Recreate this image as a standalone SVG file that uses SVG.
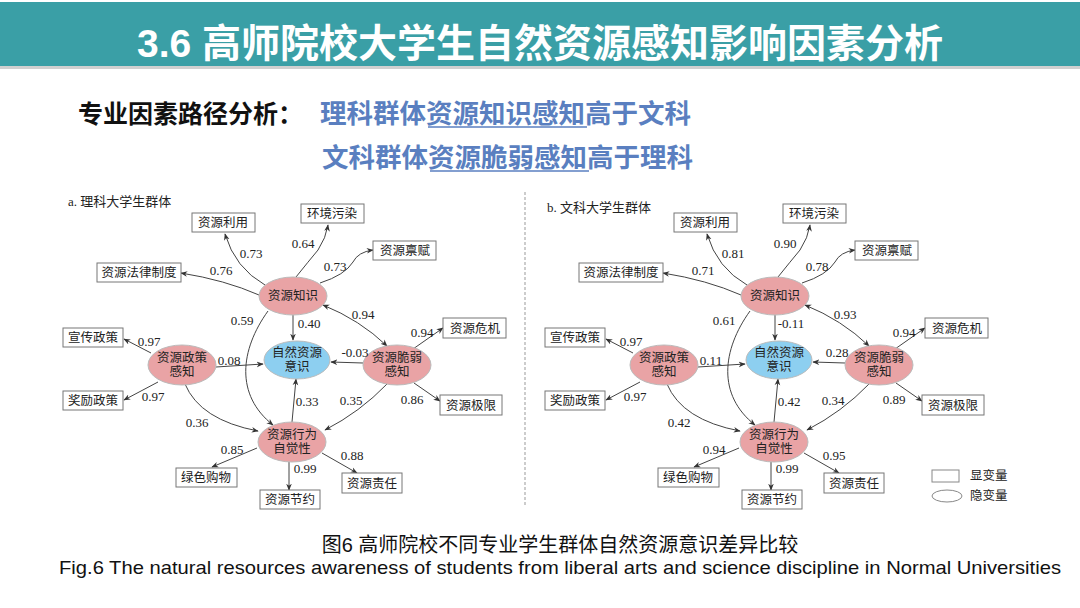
<svg xmlns="http://www.w3.org/2000/svg" width="1080" height="608" viewBox="0 0 1080 608">
<style>
.bx{fill:#fff;stroke:#777;stroke-width:1}
.lat{fill:#e9a3a5;stroke:#bbb;stroke-width:1}
.blu{fill:#8dcff0;stroke:#bbb;stroke-width:1}
.t{font-family:"Liberation Serif","Noto Sans CJK SC",serif;font-size:13px;fill:#222;text-anchor:middle}
.n{font-family:"Liberation Serif","Noto Sans CJK SC",serif;font-size:12.5px;fill:#222;text-anchor:middle}
.e{fill:none;stroke:#444;stroke-width:1;marker-end:url(#ar)}
</style>
<defs>
<marker id="ar" viewBox="0 0 10 10" refX="9" refY="5" markerWidth="7" markerHeight="7" orient="auto-start-reverse"><path d="M0,1 L10,5 L0,9 L3,5z" fill="#333"/></marker>
</defs>
<rect width="1080" height="608" fill="#fff"/>
<rect x="0" y="3" width="1080" height="66" fill="#d0d0d0"/>
<rect x="0" y="2" width="1080" height="64" fill="#3a9fa6"/>
<text x="540" y="57" font-family="Liberation Sans,'Noto Sans CJK SC',sans-serif" font-size="39" font-weight="bold" fill="#fff" text-anchor="middle">3.6 高师院校大学生自然资源感知影响因素分析</text>
<g font-family="Liberation Sans,'Noto Sans CJK SC',sans-serif" font-size="26.5" font-weight="bold">
<text x="78" y="123" fill="#111" font-size="25">专业因素路径分析：</text>
<text x="320" y="123" fill="#5a7fc0">理科群体资源知识感知高于文科</text>
<text x="322" y="167" fill="#5a7fc0">文科群体资源脆弱感知高于理科</text>
</g>
<line x1="428" y1="127" x2="587" y2="127" stroke="#5a7fc0" stroke-width="1.5"/>
<line x1="430" y1="171" x2="589" y2="171" stroke="#5a7fc0" stroke-width="1.5"/>
<line x1="525" y1="192" x2="525" y2="505" stroke="#999" stroke-dasharray="3,2"/>

<g id="diagramA">
<text x="68" y="206" class="t" style="text-anchor:start">a.  理科大学生群体</text>
<g id="edgesA">
<path class="e" d="M265,285 Q235,268 225,234"/>
<path class="e" d="M296,277 Q308,262 318,250 Q326,238 328,225"/>
<path class="e" d="M320,283 Q345,275 353,262 Q358,252 373,250"/>
<path class="e" d="M259,295 Q225,280 181,273"/>
<path class="e" d="M293,315 L293,340"/>
<path class="e" d="M323,305 Q360,320 387,346" marker-start="url(#ar)"/>
<path class="e" d="M268,311 C240,350 235,395 273,425"/>
<path class="e" d="M151,353 L124,339"/>
<path class="e" d="M158,382 L124,400"/>
<path class="e" d="M216,367 L263,364"/>
<path class="e" d="M185,384 Q200,420 258,431"/>
<path class="e" d="M413,349 L443,328"/>
<path class="e" d="M414,383 L440,401"/>
<path class="e" d="M363,363 L331,362"/>
<path class="e" d="M387,384 Q360,412 325,430"/>
<path class="e" d="M292,422 L296,379"/>
<path class="e" d="M257,448 L212,467"/>
<path class="e" d="M289,462 L289,490"/>
<path class="e" d="M322,453 L357,473"/>
</g>
<g id="A_zs"><ellipse class="lat" cx="293" cy="296" rx="34" ry="19"/><text class="n" x="293" y="300">资源知识</text></g>
<g id="A_ys"><ellipse class="blu" cx="297" cy="360" rx="33" ry="19"/><text class="n" x="297" y="357">自然资源</text><text class="n" x="297" y="371">意识</text></g>
<g id="A_zc"><ellipse class="lat" cx="182" cy="365" rx="34" ry="20"/><text class="n" x="182" y="362">资源政策</text><text class="n" x="182" y="376">感知</text></g>
<g id="A_cr"><ellipse class="lat" cx="397" cy="365" rx="34" ry="20"/><text class="n" x="397" y="362">资源脆弱</text><text class="n" x="397" y="376">感知</text></g>
<g id="A_xw"><ellipse class="lat" cx="292" cy="442" rx="34" ry="20"/><text class="n" x="292" y="439">资源行为</text><text class="n" x="292" y="453">自觉性</text></g>
<g id="A_b1"><rect class="bx" x="192" y="213" width="63" height="19"/><text class="n" x="223" y="227">资源利用</text></g>
<g id="A_b2"><rect class="bx" x="301" y="204" width="63" height="19"/><text class="n" x="332" y="218">环境污染</text></g>
<g id="A_b3"><rect class="bx" x="373" y="241" width="63" height="19"/><text class="n" x="405" y="255">资源禀赋</text></g>
<g id="A_b4"><rect class="bx" x="97" y="263" width="84" height="19"/><text class="n" x="139" y="277">资源法律制度</text></g>
<g id="A_b5"><rect class="bx" x="63" y="328" width="60" height="19"/><text class="n" x="93" y="342">宣传政策</text></g>
<g id="A_b6"><rect class="bx" x="443" y="318" width="63" height="20"/><text class="n" x="475" y="333">资源危机</text></g>
<g id="A_b7"><rect class="bx" x="63" y="391" width="60" height="19"/><text class="n" x="93" y="405">奖励政策</text></g>
<g id="A_b8"><rect class="bx" x="440" y="395" width="62" height="20"/><text class="n" x="471" y="410">资源极限</text></g>
<g id="A_b9"><rect class="bx" x="176" y="468" width="61" height="19"/><text class="n" x="206" y="482">绿色购物</text></g>
<g id="A_b10"><rect class="bx" x="260" y="490" width="60" height="19"/><text class="n" x="290" y="504">资源节约</text></g>
<g id="A_b11"><rect class="bx" x="342" y="473" width="60" height="20"/><text class="n" x="372" y="488">资源责任</text></g>
<g class="t">
<text x="251" y="258">0.73</text><text x="303" y="248">0.64</text><text x="335" y="271">0.73</text><text x="221" y="275">0.76</text>
<text x="242" y="325">0.59</text><text x="309" y="328">0.40</text><text x="363" y="319">0.94</text><text x="422" y="337">0.94</text>
<text x="149" y="346">0.97</text><text x="229" y="365">0.08</text><text x="355" y="357">-0.03</text><text x="153" y="401">0.97</text>
<text x="307" y="406">0.33</text><text x="351" y="405">0.35</text><text x="412" y="404">0.86</text><text x="197" y="427">0.36</text>
<text x="232" y="454">0.85</text><text x="305" y="473">0.99</text><text x="352" y="460">0.88</text>
</g>
</g>

<g id="diagramB" transform="translate(482,0)">
<text x="65" y="212" class="t" style="text-anchor:start">b.  文科大学生群体</text>
<g id="edgesB">
<path class="e" d="M265,285 Q235,268 225,234"/>
<path class="e" d="M296,277 Q308,262 318,250 Q326,238 328,225"/>
<path class="e" d="M320,283 Q345,275 353,262 Q358,252 373,250"/>
<path class="e" d="M259,295 Q225,280 181,273"/>
<path class="e" d="M293,315 L293,340"/>
<path class="e" d="M323,305 Q360,320 387,346" marker-start="url(#ar)"/>
<path class="e" d="M268,311 C240,350 235,395 273,425"/>
<path class="e" d="M151,353 L124,339"/>
<path class="e" d="M158,382 L124,400"/>
<path class="e" d="M216,367 L263,364"/>
<path class="e" d="M185,384 Q200,420 258,431"/>
<path class="e" d="M413,349 L443,328"/>
<path class="e" d="M414,383 L440,401"/>
<path class="e" d="M363,363 L331,362"/>
<path class="e" d="M387,384 Q360,412 325,430"/>
<path class="e" d="M292,422 L296,379"/>
<path class="e" d="M257,448 L212,467"/>
<path class="e" d="M289,462 L289,490"/>
<path class="e" d="M322,453 L357,473"/>
</g>
<g id="B_zs"><ellipse class="lat" cx="293" cy="296" rx="34" ry="19"/><text class="n" x="293" y="300">资源知识</text></g>
<g id="B_ys"><ellipse class="blu" cx="297" cy="360" rx="33" ry="19"/><text class="n" x="297" y="357">自然资源</text><text class="n" x="297" y="371">意识</text></g>
<g id="B_zc"><ellipse class="lat" cx="182" cy="365" rx="34" ry="20"/><text class="n" x="182" y="362">资源政策</text><text class="n" x="182" y="376">感知</text></g>
<g id="B_cr"><ellipse class="lat" cx="397" cy="365" rx="34" ry="20"/><text class="n" x="397" y="362">资源脆弱</text><text class="n" x="397" y="376">感知</text></g>
<g id="B_xw"><ellipse class="lat" cx="292" cy="442" rx="34" ry="20"/><text class="n" x="292" y="439">资源行为</text><text class="n" x="292" y="453">自觉性</text></g>
<g id="B_b1"><rect class="bx" x="192" y="213" width="63" height="19"/><text class="n" x="223" y="227">资源利用</text></g>
<g id="B_b2"><rect class="bx" x="301" y="204" width="63" height="19"/><text class="n" x="332" y="218">环境污染</text></g>
<g id="B_b3"><rect class="bx" x="373" y="241" width="63" height="19"/><text class="n" x="405" y="255">资源禀赋</text></g>
<g id="B_b4"><rect class="bx" x="97" y="263" width="84" height="19"/><text class="n" x="139" y="277">资源法律制度</text></g>
<g id="B_b5"><rect class="bx" x="63" y="328" width="60" height="19"/><text class="n" x="93" y="342">宣传政策</text></g>
<g id="B_b6"><rect class="bx" x="443" y="318" width="63" height="20"/><text class="n" x="475" y="333">资源危机</text></g>
<g id="B_b7"><rect class="bx" x="63" y="391" width="60" height="19"/><text class="n" x="93" y="405">奖励政策</text></g>
<g id="B_b8"><rect class="bx" x="440" y="395" width="62" height="20"/><text class="n" x="471" y="410">资源极限</text></g>
<g id="B_b9"><rect class="bx" x="176" y="468" width="61" height="19"/><text class="n" x="206" y="482">绿色购物</text></g>
<g id="B_b10"><rect class="bx" x="260" y="490" width="60" height="19"/><text class="n" x="290" y="504">资源节约</text></g>
<g id="B_b11"><rect class="bx" x="342" y="473" width="60" height="20"/><text class="n" x="372" y="488">资源责任</text></g>
<g class="t">
<text x="251" y="258">0.81</text><text x="303" y="248">0.90</text><text x="335" y="271">0.78</text><text x="221" y="275">0.71</text>
<text x="242" y="325">0.61</text><text x="309" y="328">-0.11</text><text x="363" y="319">0.93</text><text x="422" y="337">0.94</text>
<text x="149" y="346">0.97</text><text x="229" y="365">0.11</text><text x="355" y="357">0.28</text><text x="153" y="401">0.97</text>
<text x="307" y="406">0.42</text><text x="351" y="405">0.34</text><text x="412" y="404">0.89</text><text x="197" y="427">0.42</text>
<text x="232" y="454">0.94</text><text x="305" y="473">0.99</text><text x="352" y="460">0.95</text>
</g>
</g>
<g id="legend">
<rect x="932" y="470" width="27" height="12" fill="#fff" stroke="#888"/>
<ellipse cx="947" cy="496" rx="15" ry="6" fill="#fff" stroke="#888"/>
<text class="n" x="970" y="480" style="text-anchor:start">显变量</text>
<text class="n" x="970" y="500" style="text-anchor:start">隐变量</text>
</g>
<text x="560" y="552" font-family="Liberation Sans,'Noto Sans CJK SC',sans-serif" font-size="20" fill="#111" text-anchor="middle">图6 高师院校不同专业学生群体自然资源意识差异比较</text>
<text x="560" y="574" font-family="Liberation Sans,sans-serif" font-size="18.5" fill="#111" text-anchor="middle" textLength="1002" lengthAdjust="spacingAndGlyphs">Fig.6 The natural resources awareness of students from liberal arts and science discipline in Normal Universities</text>
</svg>
